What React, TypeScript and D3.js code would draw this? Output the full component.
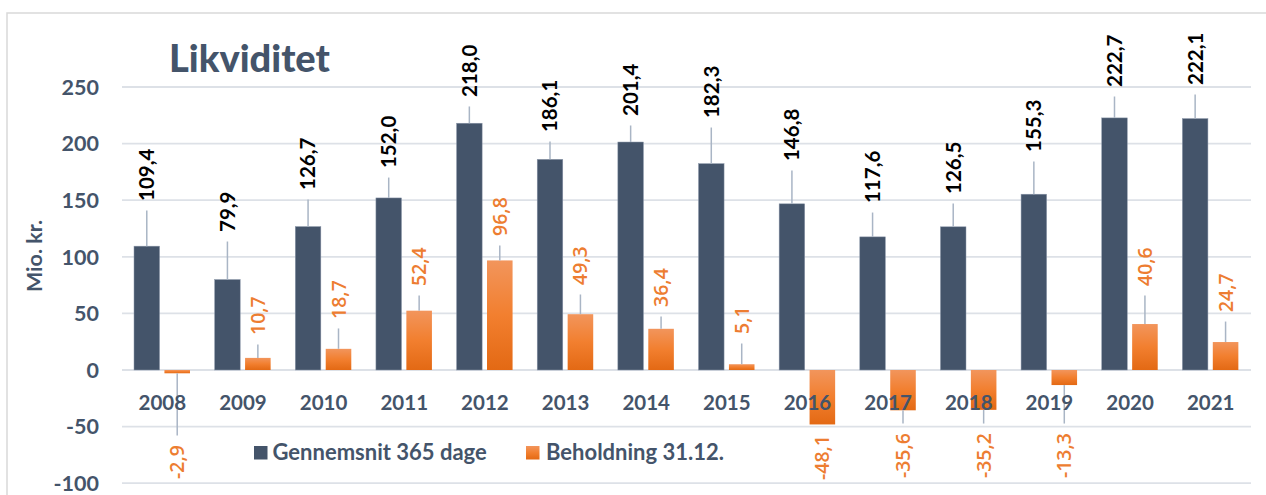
import React from "react";
import * as d3 from "d3";

const years = ["2008","2009","2010","2011","2012","2013","2014","2015","2016","2017","2018","2019","2020","2021"];
const average = [109.4, 79.9, 126.7, 152.0, 218.0, 186.1, 201.4, 182.3, 146.8, 117.6, 126.5, 155.3, 222.7, 222.1];
const holding = [-2.9, 10.7, 18.7, 52.4, 96.8, 49.3, 36.4, 5.1, -48.1, -35.6, -35.2, -13.3, 40.6, 24.7];
const yTicks = [250, 200, 150, 100, 50, 0, -50, -100];
const seriesNames = ["Gennemsnit 365 dage", "Beholdning 31.12."];
// label anchor positions (value-axis units)
const averageLabelAt = [149.3, 121.9, 159.0, 178.4, 241.2, 210.2, 224.4, 222.6, 184.6, 147.5, 155.5, 192.6, 250, 251.8];
const holdingLabelAt = [-66.3, 30.9, 45.1, 74.2, 118.4, 75.1, 55.7, 31.8, -57.4, -55.7, -55.7, -55.7, 74.2, 51.2];

const NAVY = "#44546A";
const ORANGE = "#ED7D31";
const GRID = "#DDE1E7";
const LEADER = "#A9B5C5";
const FONT = "Lato, 'Open Sans', sans-serif";
const FONT2 = "'Open Sans', Lato, sans-serif";

const fmt = (v: number) => d3.format(".1f")(v).replace(".", ",").replace("−", "-");

export default function App() {
  const W = 1266, H = 495;
  const x0 = d3.scaleBand<string>().domain(years).range([122, 1251]).padding(0);
  const x1 = d3.scaleBand<string>().domain(["a", "b"]).range([12, 68]).paddingInner(0.16);
  const y = d3.scaleLinear().domain([-100, 250]).range([483.2, 87]);
  const bw = x1.bandwidth();

  const labelEls: React.ReactNode[] = [];
  const leaderEls: React.ReactNode[] = [];

  years.forEach((yr, i) => {
    const series = [
      { key: "a", v: average[i], at: averageLabelAt[i], color: "#000", weight: 700, font: FONT, size: 20.5 },
      { key: "b", v: holding[i], at: holdingLabelAt[i], color: ORANGE, weight: 600, font: FONT2, size: 19.5 },
    ];
    series.forEach((s) => {
      const cx = (x0(yr) as number) + (x1(s.key) as number) + bw / 2;
      const barEnd = y(s.v);
      const anchorY = y(s.at);
      const pos = s.v >= 0;
      const lt = pos ? anchorY + 9.5 : anchorY - 9.5;
      if (Math.abs(barEnd - lt) > 2 && (pos ? barEnd > lt : lt > barEnd))
        leaderEls.push(<line key={`l${s.key}${i}`} x1={cx} x2={cx} y1={barEnd} y2={lt} stroke={LEADER} strokeWidth={1.5} />);
      labelEls.push(
        <text key={`t${s.key}${i}`} transform={`translate(${cx},${anchorY}) rotate(-90)`} dy="0.36em"
          textAnchor={pos ? "start" : "end"} fill={s.color} fontWeight={s.weight} fontSize={s.size} fontFamily={s.font}>{fmt(s.v)}</text>
      );
    });
  });

  return (
    <svg width={W} height={H} style={{ position: "absolute", left: 0, top: 0, background: "#fff" }}>
      <defs>
        <linearGradient id="og" x1="0" y1="0" x2="0" y2="1">
          <stop offset="0" stopColor="#F2955C" />
          <stop offset="0.5" stopColor="#F27F2F" />
          <stop offset="1" stopColor="#E36914" />
        </linearGradient>
      </defs>
      <rect x={7} y={13} width={1275} height={500} fill="#fff" stroke="#D9D9D9" strokeWidth={1.5} />
      <text x={169} y={72} fill={NAVY} fontFamily={FONT} fontWeight={900} fontSize={38}>Likviditet</text>
      {yTicks.map((t) => (
        <g key={t}>
          <line x1={122} x2={1251} y1={y(t)} y2={y(t)} stroke={GRID} strokeWidth={1.8} />
          <text x={99} y={y(t)} dy="0.36em" textAnchor="end" fill={NAVY} fontFamily={FONT} fontWeight={700} fontSize={21.5}>{t}</text>
        </g>
      ))}
      <text transform={`translate(34,256) rotate(-90)`} dy="0.36em" textAnchor="middle" fill={NAVY} fontFamily={FONT} fontWeight={700} fontSize={21.5}>Mio. kr.</text>
      {years.map((yr, i) => {
        const xa = (x0(yr) as number) + (x1("a") as number);
        const xb = (x0(yr) as number) + (x1("b") as number);
        const ha = average[i], hb = holding[i];
        return (
          <g key={yr}>
            <rect x={xa} y={y(Math.max(0, ha))} width={bw} height={Math.abs(y(ha) - y(0))} fill={NAVY} stroke="#8C98AA" strokeWidth={0.5} />
            <rect x={xb} y={y(Math.max(0, hb))} width={bw} height={Math.abs(y(hb) - y(0))} fill="url(#og)" />
          </g>
        );
      })}
      {leaderEls}
      {years.map((yr) => (
        <text key={yr} x={(x0(yr) as number) + x0.bandwidth() / 2} y={410} textAnchor="middle" fill={NAVY}
          fontFamily={FONT} fontWeight={700} fontSize={20.5}>{yr}</text>
      ))}
      {labelEls}
      <rect x={254} y={446} width={13.5} height={13.5} fill={NAVY} />
      <text x={272.5} y={459.5} fill={NAVY} fontFamily={FONT} fontWeight={700} fontSize={22}>{seriesNames[0]}</text>
      <rect x={526} y={446} width={13.5} height={13.5} fill="url(#og)" />
      <text x={546} y={459.5} fill={NAVY} fontFamily={FONT} fontWeight={700} fontSize={22}>{seriesNames[1]}</text>
    </svg>
  );
}
